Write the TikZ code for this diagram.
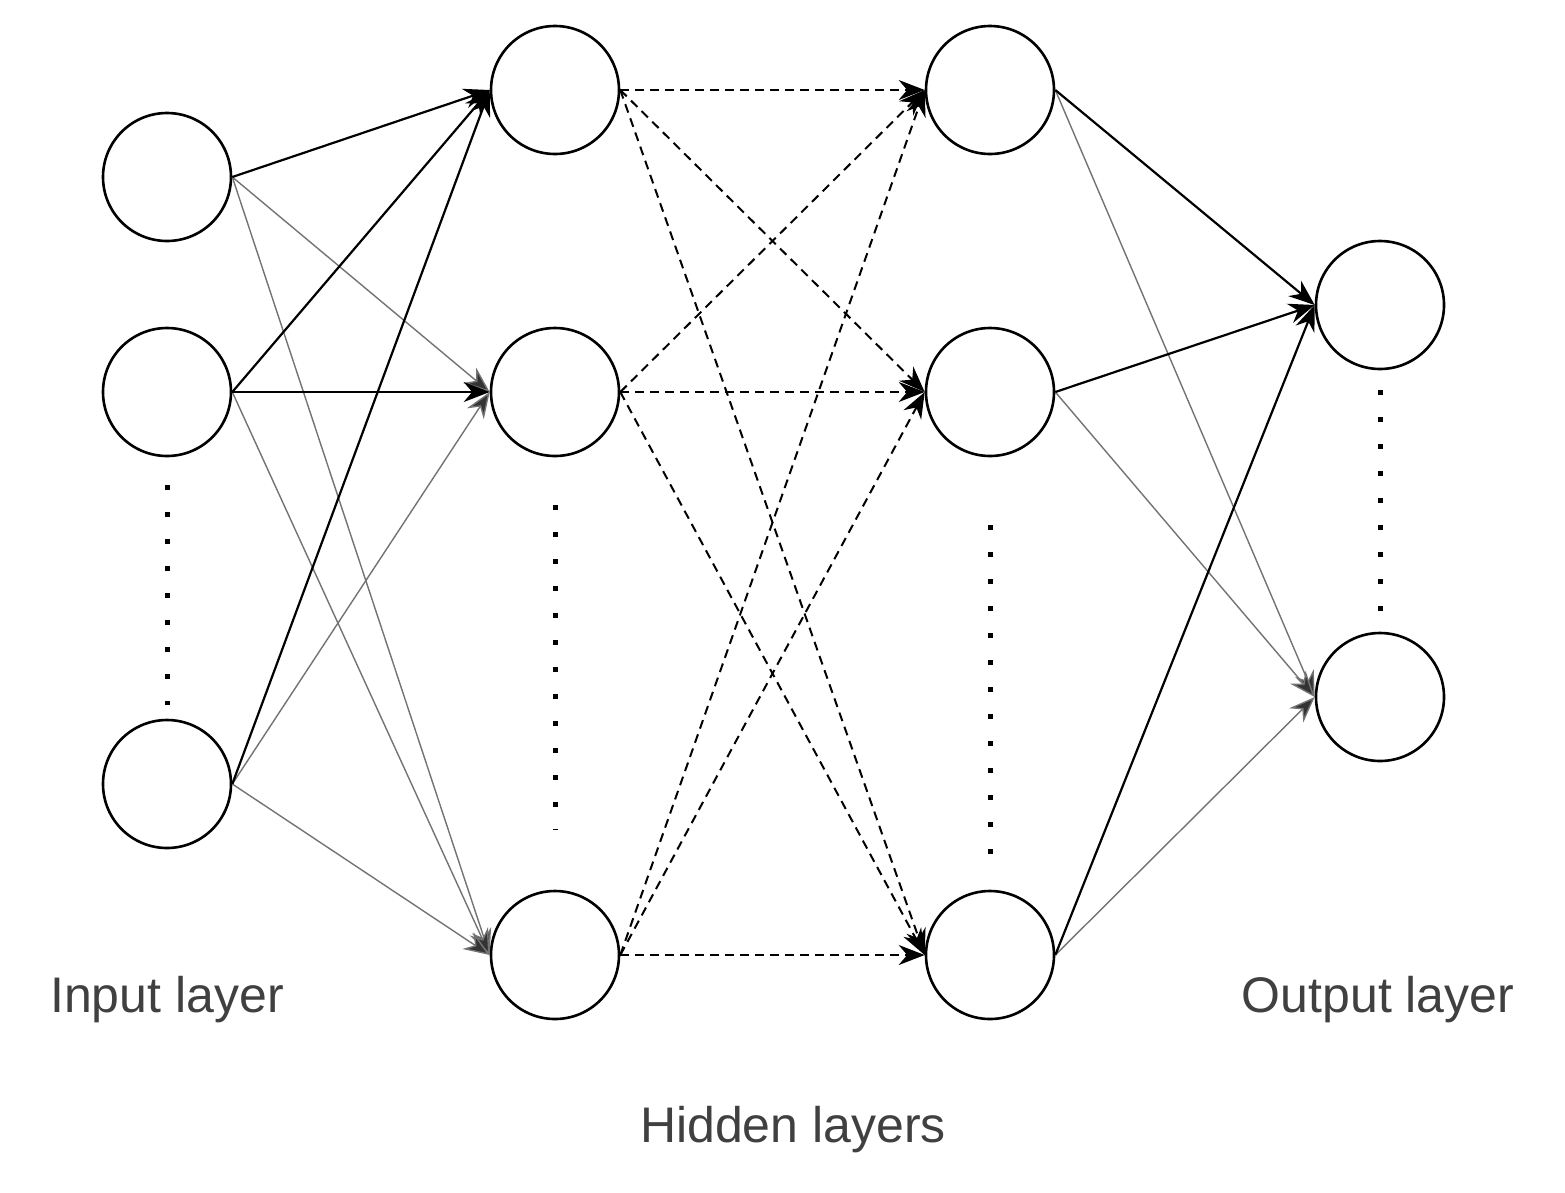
\documentclass[tikz,border=0pt]{standalone}
\usepackage{fontspec}
\setmainfont{Liberation Sans}
\usetikzlibrary{arrows.meta}
\begin{document}
\begin{tikzpicture}[x=1pt,y=-1pt,
  neuron/.style={circle,draw,line width=2.6pt,minimum size=128pt,inner sep=0},
  dk/.style={line width=2.2pt,-{Stealth[length=26pt,width=20pt]}},
  gr/.style={line width=1.4pt,draw=black!55,-{Stealth[length=26pt,width=20pt,fill=black!80]}},
  da/.style={line width=2pt,dash pattern=on 9pt off 6pt,-{Stealth[length=26pt,width=20pt]}},
  dots/.style={line width=5pt,dash pattern=on 5pt off 22pt},
  lbl/.style={text=black!75,font=\fontsize{50}{60}\selectfont}]
\useasboundingbox (0,0) rectangle (1565,1192);
\node[neuron] (i1) at (167,177) {};
\node[neuron] (i2) at (167,392) {};
\node[neuron] (i3) at (167,784) {};
\node[neuron] (a1) at (555,90) {};
\node[neuron] (a2) at (555,392) {};
\node[neuron] (a3) at (555,955) {};
\node[neuron] (b1) at (990,90) {};
\node[neuron] (b2) at (990,392) {};
\node[neuron] (b3) at (990,955) {};
\node[neuron] (o1) at (1380,305) {};
\node[neuron] (o2) at (1380,697) {};
\coordinate (d1s) at (167,485); \coordinate (d1e) at (167,705);
\coordinate (d2s) at (555,505); \coordinate (d2e) at (555,830);
\coordinate (d3s) at (990,525); \coordinate (d3e) at (990,855);
\coordinate (d4s) at (1380,390); \coordinate (d4e) at (1380,615);
\draw[dots] (d1s) -- (d1e);
\draw[dots] (d2s) -- (d2e);
\draw[dots] (d3s) -- (d3e);
\draw[dots] (d4s) -- (d4e);
% input -> hidden1
\draw[gr] (i1.east) -- (a2.west);
\draw[gr] (i1.east) -- (a3.west);
\draw[gr] (i2.east) -- (a3.west);
\draw[gr] (i3.east) -- (a2.west);
\draw[gr] (i3.east) -- (a3.west);
\draw[dk] (i1.east) -- (a1.west);
\draw[dk] (i2.east) -- (a1.west);
\draw[dk] (i2.east) -- (a2.west);
\draw[dk] (i3.east) -- (a1.west);
% hidden1 -> hidden2
\foreach \s in {a1,a2,a3}{\foreach \t in {b1,b2,b3}{\draw[da] (\s.east) -- (\t.west);}}
% hidden2 -> output
\draw[gr] (b1.east) -- (o2.west);
\draw[gr] (b2.east) -- (o2.west);
\draw[gr] (b3.east) -- (o2.west);
\draw[dk] (b1.east) -- (o1.west);
\draw[dk] (b2.east) -- (o1.west);
\draw[dk] (b3.east) -- (o1.west);
\node[lbl] (t1) at (167,1000) {Input layer};
\node[lbl] (t2) at (1378,1000) {Output layer};
\node[lbl] (t3) at (793,1130) {Hidden layers};
\end{tikzpicture}
\end{document}
